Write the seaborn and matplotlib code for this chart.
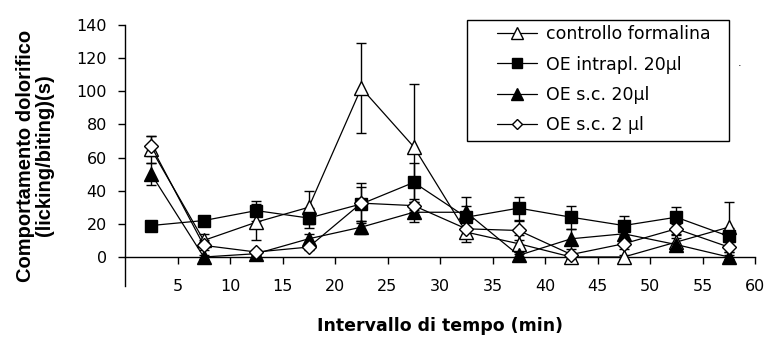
import matplotlib
matplotlib.use("Agg")
import matplotlib.pyplot as plt
from matplotlib.patches import Rectangle
import seaborn as sns
import numpy as np

# ---- data ----
time_min = [2.5, 7.5, 12.5, 17.5, 22.5, 27.5, 32.5, 37.5, 42.5, 47.5, 52.5, 57.5]

controllo = [65, 10, 21, 30, 102, 66.5, 15, 8, 0, 0, 9, 18]
controllo_err = [8, 4, 11, 10, 27, 38, 6, 5, 1, 1, 4, 15]

oe_intrapl_20 = [19, 22, 28, 23.5, 32, 45, 24, 29.5, 24, 19, 24, 12.5]
oe_intrapl_20_err = [3, 3, 6, 6, 10, 12, 7, 7, 7, 6, 6, 5]

oe_sc_20 = [50, 0, 2, 11, 18, 27, 27, 1, 11, 14, 7.5, 0]
oe_sc_20_err = [6.5, 1, 1, 3, 4, 6, 9, 1, 6, 3, 4, 1]

oe_sc_2 = [67, 7, 3, 6, 32.5, 31, 17, 16, 1.5, 8, 17, 6]
oe_sc_2_err = [6, 3, 1, 2, 12, 4, 4, 6, 1, 3, 3, 3]

labels = ["controllo formalina", "OE intrapl. 20\u00b5l", "OE s.c. 20\u00b5l", "OE s.c. 2 \u00b5l"]
x_ticks = [5, 10, 15, 20, 25, 30, 35, 40, 45, 50, 55, 60]
y_ticks = [0, 20, 40, 60, 80, 100, 120, 140]

series = [
    (controllo, controllo_err, "^", "white", 10),
    (oe_intrapl_20, oe_intrapl_20_err, "s", "black", 9.3),
    (oe_sc_20, oe_sc_20_err, "^", "black", 10),
    (oe_sc_2, oe_sc_2_err, "D", "white", 7),
]

sns.set_theme(style="white")
plt.rcParams['font.family'] = ['DejaVu Sans']
plt.rcParams.update({"text.color": "black", "axes.labelcolor": "black",
                     "xtick.color": "black", "ytick.color": "black"})

W, H = 766, 338
fig = plt.figure(figsize=(W/100, H/100), dpi=100)
ax = fig.add_axes([125/W, 1-286/H, (755-125)/W, (286-25)/H])

for (vals, err, mk, fc, ms), lab in zip(series, labels):
    ax.errorbar(time_min, vals, yerr=err, fmt="none", ecolor="black",
                elinewidth=1.0, capsize=3.8, capthick=1.0, zorder=2)
    sns.lineplot(x=time_min, y=vals, ax=ax, color="black", linewidth=0.9,
                 marker=mk, markersize=ms, markerfacecolor=fc,
                 markeredgecolor="black", markeredgewidth=1.0,
                 label=lab, zorder=3)

ax.set_xlim(0, 60)
ax.set_ylim(-17.5, 140)
ax.set_xticks(x_ticks)
ax.set_yticks(y_ticks)
ax.set_xticklabels([str(t) for t in x_ticks])
ax.set_yticklabels([str(t) for t in y_ticks])

for s in ["top", "right"]:
    ax.spines[s].set_visible(False)
ax.spines["bottom"].set_position(("data", 0))
for s in ["left", "bottom"]:
    ax.spines[s].set_color("black")
    ax.spines[s].set_linewidth(1.0)

ax.tick_params(axis="x", direction="out", length=5, width=1, pad=11,
               labelsize=11.5, colors="black", bottom=True)
ax.tick_params(axis="y", direction="out", length=5, width=1, pad=8,
               labelsize=11.5, colors="black", left=True)

ax.set_xlabel("Intervallo di tempo (min)", fontsize=12.5, fontweight="bold")
ax.xaxis.set_label_coords(0.5, -0.12)
ax.set_ylabel("Comportamento dolorifico\n(licking/biting)(s)", fontsize=14.5,
              fontweight="bold", linespacing=1.0, family="Liberation Sans")
ax.yaxis.set_label_coords(-0.113, 0.5)

leg = ax.legend(loc="upper left",
                bbox_to_anchor=((497-125)/630, 1 - (25-25)/261),
                frameon=False, fontsize=12.5, handlelength=2.3,
                borderpad=0, labelspacing=0.72, handletextpad=0.55,
                borderaxespad=0, markerscale=0.8)
fig.patches.append(Rectangle((467/W, 1-141/H), (729-467)/W, (141-20)/H,
                             transform=fig.transFigure, fill=False,
                             edgecolor="black", linewidth=1.0))

fig.text(740/W, 1-63/H, ".", fontsize=8, ha="center", va="center")

fig.savefig("out.png", dpi=100)
